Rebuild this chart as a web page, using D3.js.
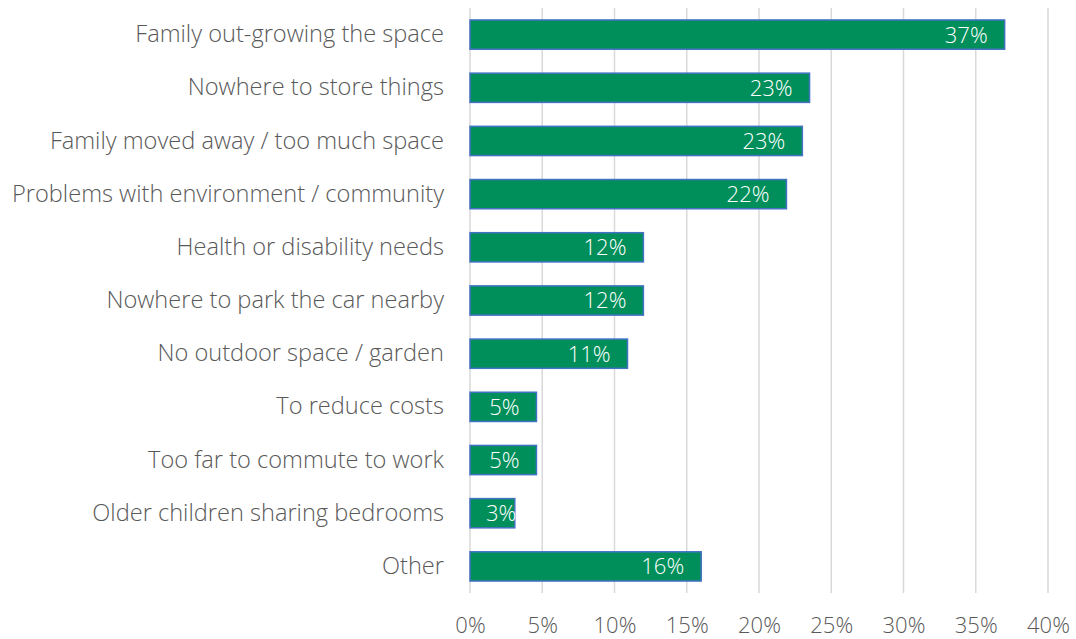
<!DOCTYPE html>
<html><head><meta charset="utf-8">
<script src="https://cdn.jsdelivr.net/npm/d3@7"></script>
<style>
body{margin:0;background:#fff;}
text{font-family:"Open Sans",Lato,sans-serif;font-weight:300;}
</style></head>
<body><svg id="c" width="1076" height="639"></svg>
<script>
const categories = ["Family out-growing the space","Nowhere to store things","Family moved away / too much space","Problems with environment / community","Health or disability needs","Nowhere to park the car nearby","No outdoor space / garden","To reduce costs","Too far to commute to work","Older children sharing bedrooms","Other"];
const values = [37.0, 23.5, 23.0, 21.9, 12.0, 12.0, 10.9, 4.6, 4.6, 3.1, 16.0];
const valueLabels = ["37%","23%","23%","22%","12%","12%","11%","5%","5%","3%","16%"];
const ticks = [0,5,10,15,20,25,30,35,40];

const svg = d3.select("#c");
const x = d3.scaleLinear().domain([0,40]).range([470,1048]);
const y = d3.scaleBand().domain(categories).range([8,593]).paddingInner(0.45).paddingOuter(0.225);

svg.append("g").selectAll("line").data(ticks).join("line")
  .attr("x1",d=>x(d)).attr("x2",d=>x(d)).attr("y1",8).attr("y2",593)
  .attr("stroke","#d9d9d9").attr("stroke-width",1.5);

const xAxis = svg.append("g").attr("transform","translate(0,593)")
  .call(d3.axisBottom(x).tickValues(ticks).tickFormat(d=>d+"%").tickSize(0).tickPadding(24));
xAxis.select(".domain").remove();
xAxis.selectAll("text").attr("font-size",22).attr("fill","#595959").style("font-family","'Open Sans',Lato,sans-serif").style("font-weight",300);

const yAxis = svg.append("g").attr("transform","translate(470,0)")
  .call(d3.axisLeft(y).tickSize(0).tickPadding(26));
yAxis.select(".domain").remove();
yAxis.selectAll("text").attr("font-size",23.6).attr("fill","#595959").style("font-family","'Open Sans',Lato,sans-serif").style("font-weight",300);

svg.append("g").selectAll("rect").data(values).join("rect")
  .attr("x",x(0)).attr("y",(d,i)=>y(categories[i]))
  .attr("width",d=>x(d)-x(0)).attr("height",y.bandwidth())
  .attr("fill","#008f5a").attr("stroke","#4472c4").attr("stroke-width",1.5);

svg.append("g").selectAll("text").data(values).join("text")
  .attr("y",(d,i)=>y(categories[i])+y.bandwidth()/2)
  .attr("dy","0.36em").attr("text-anchor","end")
  .attr("font-size",22).attr("fill","#fff")
  .text((d,i)=>valueLabels[i])
  .attr("x",function(d){
    const w=this.getComputedTextLength();
    return Math.max(x(d)-17, x(0)+16+w);
  });
</script></body></html>
